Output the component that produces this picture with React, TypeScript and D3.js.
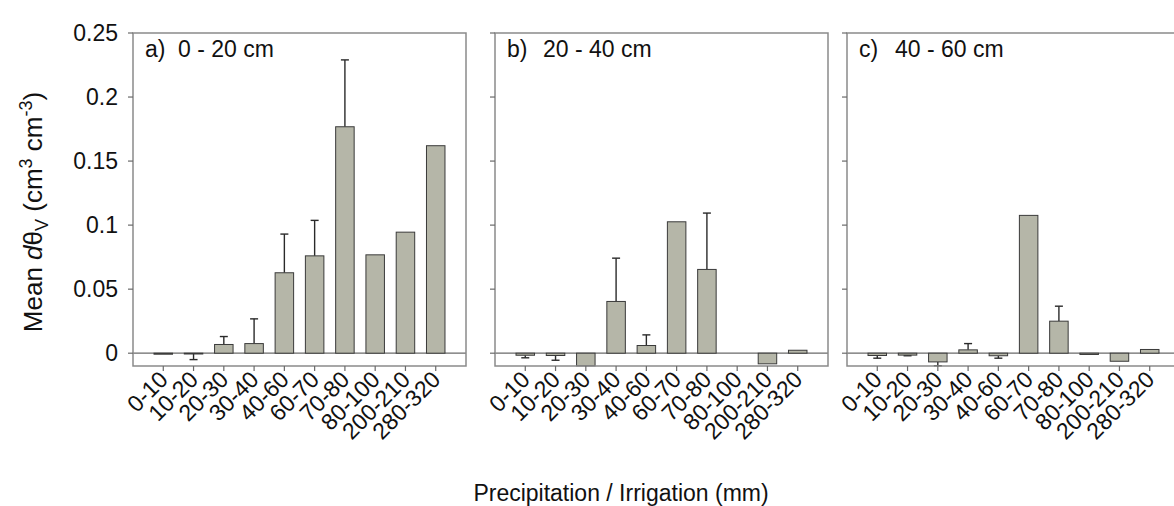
import React from "react";
import * as d3 from "d3";

const categories = ["0-10", "10-20", "20-30", "30-40", "40-60", "60-70", "70-80", "80-100", "200-210", "280-320"];
const yTicks = [0, 0.05, 0.1, 0.15, 0.2, 0.25];
const yTickLabels = ["0", "0.05", "0.1", "0.15", "0.2", "0.25"];

const panelLetters = ["a)", "b)", "c)"];
const panelDepths = ["0 - 20 cm", "20 - 40 cm", "40 - 60 cm"];

// means
const meanA = [-0.0008, -0.0005, 0.0068, 0.0075, 0.0628, 0.076, 0.1768, 0.0768, 0.0945, 0.162];
const meanB = [-0.0016, -0.0018, -0.0099, 0.0404, 0.006, 0.1026, 0.0654, 0, -0.0083, 0.0023];
const meanC = [-0.0018, -0.0015, -0.0068, 0.0026, -0.002, 0.1076, 0.025, -0.001, -0.0063, 0.0029];
// error magnitudes (drawn away from zero)
const errA = [0, 0.0045, 0.0062, 0.0193, 0.0302, 0.0277, 0.0522, 0, 0, 0];
const errB = [0.002, 0.0037, 0, 0.0338, 0.0083, 0, 0.044, 0, 0, 0];
const errC = [0.0021, 0.0005, 0.003, 0.0049, 0.0019, 0, 0.0117, 0, 0, 0];

const means = [meanA, meanB, meanC];
const errs = [errA, errB, errC];

const W = 1174;
const H = 506;
const panelLeft = [133, 495, 847];
const panelW = 333;
const top = 33;
const bottom = 366;
const FONT = "'Liberation Sans', Arial, Helvetica, sans-serif";

export default function App() {
  const y = d3.scaleLinear().domain([-0.01, 0.25]).range([bottom, top]);
  const barW = 18.5;
  const capW = 8;

  return (
    <svg
      width={W}
      height={H}
      style={{ position: "absolute", left: 0, top: 0, background: "#fff" }}
      fontFamily={FONT}
    >
      <rect x={0} y={0} width={W} height={H} fill="#fff" />
      {means.map((vals, p) => {
        const x0 = panelLeft[p];
        const x = d3.scalePoint<string>().domain(categories).range([x0, x0 + panelW]).padding(1);
        return (
          <g key={p}>
            {/* zero line */}
            <line x1={x0} x2={x0 + panelW} y1={y(0)} y2={y(0)} stroke="#6a6a6a" strokeWidth={1.2} />
            {/* bars */}
            {vals.map((v, i) => {
              const cx = x(categories[i])!;
              const y1 = Math.min(y(v), y(0));
              const h = Math.abs(y(v) - y(0));
              const e = errs[p][i];
              const sgn = v >= 0 ? 1 : -1;
              const ye = y(v + sgn * e);
              return (
                <g key={i}>
                  {e > 0 && (
                    <g stroke="#2a2a2a" strokeWidth={1.4}>
                      <line x1={cx} x2={cx} y1={y(v)} y2={ye} />
                      <line x1={cx - capW / 2} x2={cx + capW / 2} y1={ye} y2={ye} />
                    </g>
                  )}
                  {v !== 0 && (
                    <rect
                      x={cx - barW / 2}
                      y={y1}
                      width={barW}
                      height={Math.max(h, 0.8)}
                      fill="#b5b6a8"
                      stroke="#3a3a3a"
                      strokeWidth={1}
                    />
                  )}
                </g>
              );
            })}
            {/* frame */}
            <rect x={x0} y={top} width={panelW} height={bottom - top} fill="none" stroke="#8a8a8a" strokeWidth={1.5} />
            {/* y ticks */}
            {yTicks.map((t, i) => (
              <g key={i}>
                <line x1={x0 - 5} x2={x0} y1={y(t)} y2={y(t)} stroke="#6a6a6a" strokeWidth={1.2} />
                {p === 0 && (
                  <text x={x0 - 15} y={y(t)} dy="0.36em" textAnchor="end" fontSize={23} fill="#111">
                    {yTickLabels[i]}
                  </text>
                )}
              </g>
            ))}
            {/* x ticks */}
            {categories.map((c, i) => {
              const cx = x(c)!;
              return (
                <g key={c}>
                  <line x1={cx} x2={cx} y1={bottom} y2={bottom + 5} stroke="#6a6a6a" strokeWidth={1.2} />
                  <text
                    transform={`translate(${cx + 6},${bottom + 15}) rotate(-45)`}
                    textAnchor="end"
                    fontSize={23}
                    fill="#111"
                  >
                    {c}
                  </text>
                </g>
              );
            })}
            {/* panel label */}
            <text x={x0 + 12} y={57} fontSize={23} fill="#111">
              {panelLetters[p]}
            </text>
            <text x={x0 + (p === 0 ? 45 : 48)} y={57} fontSize={23} fill="#111">
              {panelDepths[p]}
            </text>
          </g>
        );
      })}
      {/* y axis title */}
      <text transform="translate(42,212) rotate(-90)" textAnchor="middle" fontSize={26} fill="#111">
        Mean <tspan fontStyle="italic">d</tspan>θ
        <tspan fontSize={18} dy={6}>V</tspan>
        <tspan dy={-6}> (cm</tspan>
        <tspan fontSize={18} dy={-10}>3</tspan>
        <tspan dy={10}> cm</tspan>
        <tspan fontSize={18} dy={-10}>-3</tspan>
        <tspan dy={10}>)</tspan>
      </text>
      {/* x axis title */}
      <text x={621} y={501} textAnchor="middle" fontSize={23} fill="#111">
        Precipitation / Irrigation (mm)
      </text>
    </svg>
  );
}
